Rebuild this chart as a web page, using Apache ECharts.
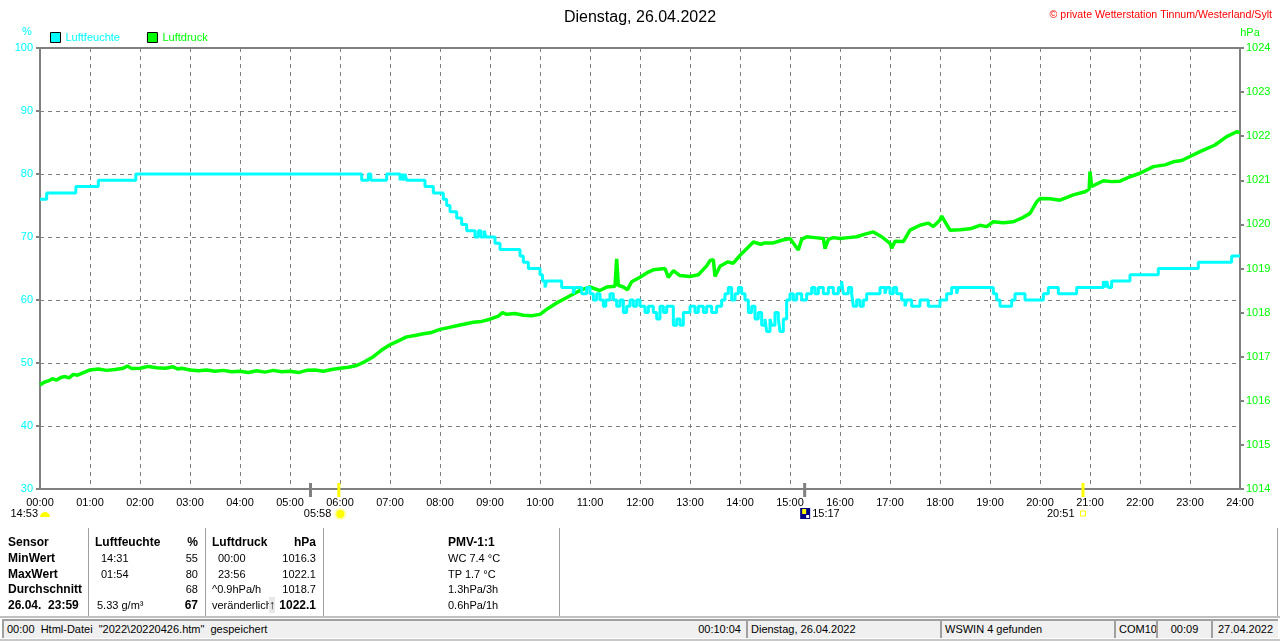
<!DOCTYPE html>
<html>
<head>
<meta charset="utf-8">
<script src="https://cdn.jsdelivr.net/npm/echarts@6/dist/echarts.min.js"></script>
<style>
  html, body { margin: 0; padding: 0; background: #fff; }
  #wrap { position: relative; width: 1280px; height: 641px; overflow: hidden;
          font-family: "Liberation Sans", Arial, sans-serif; font-size: 11px; color: #000; }
  #chart { position: absolute; left: 0; top: 0; width: 1280px; height: 641px; }
  .t { position: absolute; line-height: 16px; white-space: pre; }
  .b { font-weight: bold; font-size: 12px; }
  .sep { position: absolute; top: 528px; height: 89px; width: 1px; background: #a0a0a0; border-right: 1px solid #fff; }
  .panel { position: absolute; top: 619px; height: 19px; background: #f0f0f0; box-sizing: border-box;
           border-left: 2px solid #a0a0a0; border-top: 2px solid #a0a0a0; line-height: 17px; white-space: pre; overflow: hidden; }
</style>
</head>
<body>
<div id="wrap">
  <div id="chart"></div>
  <div id="table"></div>
  <div id="status"></div>
</div>
<script>
// Luftfeuchte (%) as [minute of day, value], held until the next point
const humidity = [
  [0,76],[8,77],[43,78],[70,79],[115,80],[386,79],[394,80],[397,79],[416,80],[432,79],[434,80],[436,79],
  [438,80],[440,79],[462,78],[472,77],[484,76],[488,75],[492,74],[500,73],[506,72],[512,71],[522,70],
  [526,71],[529,70],[533,71],[535,70],[546,69],[552,68],[576,67],[580,66],[586,65],[600,64],[603,63],
  [606,62],[608,63],[626,62],[640,61],[642,62],[650,61],[656,62],[660,61],[664,60],[668,61],[672,60],
  [676,59],[679,60],[684,61],[688,60],[692,59],[696,60],[700,58],[704,59],[708,60],[712,59],[716,60],
  [720,59],[726,58],[730,59],[736,58],[740,57],[744,59],[748,58],[752,59],[760,56],[764,57],[768,56],
  [772,58],[780,59],[786,58],[790,59],[796,58],[800,59],[806,58],[812,59],[818,60],[822,61],[826,62],
  [830,60],[834,61],[838,62],[842,61],[846,60],[850,58],[854,59],[858,57],[862,58],[866,56],[870,57],
  [872,55],[876,57],[878,56],[882,58],[886,57],[888,55],[892,57],[896,60],[900,61],[904,60],[908,61],
  [914,60],[920,61],[926,62],[930,61],[934,62],[940,61],[946,62],[952,61],[958,62],[962,63],[964,61],
  [970,62],[974,61],[976,59],[980,60],[984,59],[988,60],[992,61],[1008,62],[1014,61],[1016,62],[1020,61],
  [1024,62],[1028,61],[1034,60],[1038,59],[1040,60],[1046,59],[1056,60],[1066,59],[1080,60],[1088,61],
  [1094,62],[1100,61],[1102,62],[1144,61],[1148,60],[1152,59],[1166,60],[1170,61],[1182,60],[1204,61],
  [1210,62],[1222,61],[1244,62],[1276,63],[1278,62],[1280,63],[1282,62],[1286,63],[1308,64],[1342,65],
  [1390,66],[1430,67],[1440,67]
];

// Luftdruck (hPa) as [minute of day, value]
const pressure = [
  [0,1016.36],[5,1016.42],[10,1016.45],[15,1016.50],[20,1016.47],[25,1016.53],[30,1016.55],[35,1016.52],
  [40,1016.60],[45,1016.58],[50,1016.62],[55,1016.66],[60,1016.70],[70,1016.72],[80,1016.69],[90,1016.71],
  [100,1016.74],[105,1016.79],[110,1016.73],[120,1016.74],[130,1016.78],[140,1016.75],[150,1016.74],
  [160,1016.77],[165,1016.72],[170,1016.74],[180,1016.70],[190,1016.68],[200,1016.70],[210,1016.67],
  [220,1016.69],[230,1016.66],[240,1016.67],[250,1016.64],[260,1016.68],[270,1016.65],[280,1016.69],
  [290,1016.66],[300,1016.67],[310,1016.64],[320,1016.69],[330,1016.70],[340,1016.67],[350,1016.71],
  [360,1016.74],[370,1016.76],[380,1016.80],[390,1016.89],[400,1017.00],[410,1017.15],[420,1017.27],
  [430,1017.36],[440,1017.45],[450,1017.48],[460,1017.52],[470,1017.55],[480,1017.62],[490,1017.66],
  [500,1017.70],[510,1017.74],[520,1017.78],[530,1017.80],[540,1017.85],[550,1017.92],[555,1018.00],
  [560,1017.96],[570,1017.98],[580,1017.94],[590,1017.93],[600,1017.96],[610,1018.10],[620,1018.22],
  [630,1018.32],[640,1018.42],[650,1018.52],[660,1018.58],[672,1018.50],[680,1018.58],[690,1018.60],
  [692,1019.22],[694,1018.62],[700,1018.58],[705,1018.52],[710,1018.70],[720,1018.80],[730,1018.92],
  [736,1018.97],[750,1019.00],[754,1018.80],[760,1018.95],[768,1018.84],[780,1018.82],[790,1018.86],
  [800,1019.06],[804,1019.18],[808,1019.20],[810,1018.82],[816,1019.05],[825,1019.15],[832,1019.12],
  [840,1019.30],[848,1019.45],[856,1019.60],[865,1019.55],[870,1019.58],[880,1019.58],[890,1019.64],
  [900,1019.68],[910,1019.42],[914,1019.66],[920,1019.72],[930,1019.70],[940,1019.68],[942,1019.45],
  [946,1019.66],[952,1019.70],[960,1019.68],[970,1019.70],[980,1019.72],[990,1019.78],[1000,1019.83],
  [1010,1019.72],[1020,1019.57],[1022,1019.46],[1026,1019.62],[1036,1019.61],[1044,1019.87],[1056,1019.98],
  [1066,1020.03],[1072,1019.95],[1080,1020.10],[1082,1020.19],[1092,1019.87],[1104,1019.88],[1116,1019.90],
  [1128,1019.98],[1136,1019.95],[1144,1020.06],[1156,1020.04],[1168,1020.06],[1178,1020.14],[1188,1020.25],
  [1196,1020.51],[1200,1020.59],[1212,1020.58],[1224,1020.55],[1240,1020.67],[1254,1020.74],[1259,1020.80],
  [1260,1021.20],[1262,1020.86],[1264,1020.89],[1276,1020.99],[1286,1020.97],[1296,1020.98],[1308,1021.08],
  [1320,1021.16],[1336,1021.31],[1350,1021.35],[1360,1021.42],[1370,1021.45],[1380,1021.54],[1392,1021.65],
  [1410,1021.80],[1424,1021.99],[1436,1022.10],[1440,1022.08]
];

// astronomical markers under the time axis
const markerMinutes = [324, 358, 917, 1251];
const markerColors = ['#808080', '#ffff00', '#808080', '#ffff00'];
const astroTimes = ['14:53', '05:58', '15:17', '20:51'];

// statistics block
const rowLabels = ['Sensor', 'MinWert', 'MaxWert', 'Durchschnitt', '26.04.  23:59'];
const humTimes = ['Luftfeuchte', '14:31', '01:54', '', '5.33 g/m³'];
const humValues = ['%', '55', '80', '68', '67'];
const presTimes = ['Luftdruck', '00:00', '23:56', '^0.9hPa/h', 'veränderlich'];
const presValues = ['hPa', '1016.3', '1022.1', '1018.7', '1022.1'];
const pmvLines = ['PMV-1:1', 'WC 7.4 °C', 'TP 1.7 °C', '1.3hPa/3h', '0.6hPa/1h'];

const statusPanels = [
  { left: 2, width: 744, text: '00:00  Html-Datei  "2022\\20220426.htm"  gespeichert', right: '00:10:04' },
  { left: 746, width: 194, text: 'Dienstag, 26.04.2022' },
  { left: 940, width: 174, text: 'WSWIN 4 gefunden' },
  { left: 1114, width: 42, text: 'COM10' },
  { left: 1156, width: 55, text: '00:09', center: true },
  { left: 1211, width: 67, text: '27.04.2022', center: true }
];

const pad = n => String(n).padStart(2, '0');
const gray = '#808080';

const chart = echarts.init(document.getElementById('chart'));

const option = {
  animation: false,
  textStyle: { fontFamily: 'Liberation Sans, Arial, sans-serif' },
  title: [
    { text: 'Dienstag, 26.04.2022', left: 'center', top: 5,
      textStyle: { fontSize: 16, fontWeight: 'normal', color: '#000' } },
    { text: '© private Wetterstation Tinnum/Westerland/Sylt', right: 3, top: 5,
      textStyle: { fontSize: 10.6, fontWeight: 'normal', color: '#ff0000' } }
  ],
  legend: {
    left: 50, top: 32, itemWidth: 10, itemHeight: 10, itemGap: 27, padding: 0,
    icon: 'rect',
    itemStyle: { borderColor: '#000', borderWidth: 1 },
    textStyle: { fontSize: 11 },
    data: [
      { name: 'Luftfeuchte', textStyle: { color: '#00ffff' } },
      { name: 'Luftdruck', textStyle: { color: '#00ff00' } }
    ]
  },
  grid: { left: 40, right: 40, top: 48, bottom: 152, show: true, borderColor: gray, borderWidth: 2 },
  xAxis: {
    type: 'value', min: 0, max: 1440, interval: 60,
    axisLine: { show: true, lineStyle: { color: gray, width: 2 } },
    axisTick: { show: false },
    axisLabel: { color: '#000', fontSize: 11, margin: 8, formatter: v => pad(v / 60) + ':00' },
    splitLine: { show: true, lineStyle: { color: gray, width: 1, type: [4, 4] } }
  },
  yAxis: [
    {
      type: 'value', min: 30, max: 100, interval: 10, position: 'left',
      axisLine: { show: true, lineStyle: { color: gray, width: 2 } },
      axisTick: { show: true, length: 4, lineStyle: { color: gray, width: 2 } },
      axisLabel: { color: '#00ffff', fontSize: 11, margin: 7 },
      splitLine: { show: true, lineStyle: { color: gray, width: 1, type: [4, 4] } }
    },
    {
      type: 'value', min: 1014, max: 1024, interval: 1, position: 'right',
      axisLine: { show: true, lineStyle: { color: gray, width: 2 } },
      axisTick: { show: true, length: 4, lineStyle: { color: gray, width: 2 } },
      axisLabel: { color: '#00ff00', fontSize: 11, margin: 6, formatter: v => String(v) },
      splitLine: { show: false }
    }
  ],
  series: [
    {
      name: 'Luftdruck', type: 'line', yAxisIndex: 1, data: pressure,
      showSymbol: false, color: '#00ff00',
      lineStyle: { color: '#00ff00', width: 3.5 }, z: 2
    },
    {
      name: 'Luftfeuchte', type: 'line', yAxisIndex: 0, data: humidity, step: 'end',
      showSymbol: false, color: '#00ffff',
      lineStyle: { color: '#00ffff', width: 3 }, z: 3
    }
  ]
};

chart.setOption(option);

// axis units, tick marks and astro icons under the time axis
const yBase = chart.convertToPixel({ yAxisIndex: 0 }, 30);
const xs = markerMinutes.map(m => chart.convertToPixel({ xAxisIndex: 0 }, m));
const x0 = chart.convertToPixel({ xAxisIndex: 0 }, 0);
const labelY = yBase + 25;
const txt = (x, text, align, color) => ({
  type: 'text', x: x, y: labelY, style: { text: text, fill: color || '#000', font: '11px Liberation Sans',
    align: align, verticalAlign: 'middle' }, silent: true
});

const graphics = [
  { type: 'text', x: 27, y: 32, style: { text: '%', fill: '#00ffff', font: '11px Liberation Sans', align: 'center', verticalAlign: 'middle' } },
  { type: 'text', x: 1250, y: 33, style: { text: 'hPa', fill: '#00ff00', font: '11px Liberation Sans', align: 'center', verticalAlign: 'middle' } }
];
xs.forEach((x, i) => {
  graphics.push({ type: 'rect', shape: { x: x - 1, y: yBase - 6, width: 3, height: 14 }, style: { fill: markerColors[i] }, z: 100 });
});
// 14:53 with rising half sun
graphics.push(txt(x0 - 2, astroTimes[0], 'right'));
graphics.push({ type: 'sector', shape: { cx: x0 + 5, cy: labelY + 3, r0: 0, r: 5, startAngle: Math.PI, endAngle: Math.PI * 2 }, style: { fill: '#ffff00' } });
// 05:58 sunrise
graphics.push(txt(xs[1] - 7, astroTimes[1], 'right'));
graphics.push({ type: 'circle', shape: { cx: xs[1] + 2, cy: labelY, r: 6 }, style: { fill: '#ffffb0' } });
graphics.push({ type: 'circle', shape: { cx: xs[1] + 2, cy: labelY, r: 4 }, style: { fill: '#ffff00' } });
// 15:17 moon
graphics.push({ type: 'rect', shape: { x: xs[2] - 4, y: labelY - 6, width: 10, height: 11 }, style: { fill: '#000080' } });
graphics.push({ type: 'rect', shape: { x: xs[2] - 2, y: labelY - 5, width: 4, height: 5 }, style: { fill: '#ffff00' } });
graphics.push({ type: 'rect', shape: { x: xs[2] + 2, y: labelY + 1, width: 3, height: 3 }, style: { fill: '#ffffff' } });
graphics.push(txt(xs[2] + 8, astroTimes[2], 'left'));
// 20:51 sunset
graphics.push(txt(xs[3] - 8, astroTimes[3], 'right'));
graphics.push({ type: 'rect', shape: { x: xs[3] - 2, y: labelY - 3, width: 5, height: 5 }, style: { fill: 'none', stroke: '#ffff00', lineWidth: 1 } });

chart.setOption({ graphic: graphics });

// statistics table
const table = document.getElementById('table');
const rowTop = [534, 550, 566, 581, 597];
const addText = (parent, text, left, right, top, cls) => {
  const d = document.createElement('div');
  d.className = 't' + (cls ? ' ' + cls : '');
  d.textContent = text;
  if (left !== null) d.style.left = left + 'px';
  if (right !== null) d.style.right = (1280 - right) + 'px';
  d.style.top = top + 'px';
  parent.appendChild(d);
  return d;
};
rowLabels.forEach((s, i) => addText(table, s, 8, null, rowTop[i], 'b'));
humTimes.forEach((s, i) => addText(table, s, i === 0 ? 95 : (i === 4 ? 97 : 101), null, rowTop[i], i === 0 ? 'b' : ''));
humValues.forEach((s, i) => addText(table, s, null, 198, rowTop[i], (i === 0 || i === 4) ? 'b' : ''));
presTimes.forEach((s, i) => addText(table, s, (i === 0 || i >= 3) ? 212 : 218, null, rowTop[i], i === 0 ? 'b' : ''));
presValues.forEach((s, i) => addText(table, s, null, 316, rowTop[i], (i === 0 || i === 4) ? 'b' : ''));
addText(table, '↑', 269, null, rowTop[4], 'b').style.background = '#e8e8e8';
pmvLines.forEach((s, i) => addText(table, s, 448, null, rowTop[i], i === 0 ? 'b' : ''));
[88, 205, 323, 559, 1277].forEach(x => {
  const d = document.createElement('div');
  d.className = 'sep';
  d.style.left = x + 'px';
  table.appendChild(d);
});

// status bar
const status = document.getElementById('status');
const topLine = document.createElement('div');
topLine.style.cssText = 'position:absolute;left:0;top:616px;width:1280px;height:2px;background:#c0c0c0;';
status.appendChild(topLine);
const bottomLine = document.createElement('div');
bottomLine.style.cssText = 'position:absolute;left:0;top:639px;width:1280px;height:2px;background:#c8c8c8;';
status.appendChild(bottomLine);
statusPanels.forEach(p => {
  const d = document.createElement('div');
  d.className = 'panel';
  d.style.left = p.left + 'px';
  d.style.width = p.width + 'px';
  d.style.paddingLeft = '3px';
  if (p.center) { d.style.textAlign = 'center'; d.style.paddingLeft = '0'; }
  d.textContent = p.text;
  if (p.right) {
    const r = document.createElement('span');
    r.textContent = p.right;
    r.style.cssText = 'position:absolute;right:5px;top:0;';
    d.appendChild(r);
  }
  status.appendChild(d);
});
</script>
</body>
</html>
